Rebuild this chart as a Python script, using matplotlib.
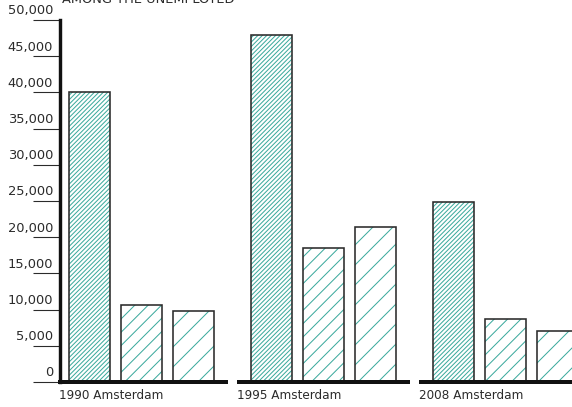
import matplotlib
matplotlib.use('Agg')
import matplotlib.pyplot as plt
from matplotlib.transforms import ScaledTranslation

DPI = 120
W, H = 572, 407
plt.rcParams['font.family'] = ['DejaVu Sans']
plt.rcParams['hatch.linewidth'] = 0.6

# ---- data ----
title = 'AMONG THE UNEMPLOYED'
categories = ['1990 Amsterdam', '1995 Amsterdam', '2008 Amsterdam']
series_1 = [40000, 47900, 24900]
series_2 = [10600, 18500, 8700]
series_3 = [9800, 21400, 7100]
y_ticks = [0, 5000, 10000, 15000, 20000, 25000, 30000, 35000, 40000, 45000, 50000]
y_tick_labels = ['0', '5,000', '10,000', '15,000', '20,000', '25,000',
                 '30,000', '35,000', '40,000', '45,000', '50,000']

TEAL = '#3aa99c'
DARK = '#2b2b2b'


def pt(pixels):
    return pixels * 72.0 / DPI


fig = plt.figure(figsize=(W / DPI, H / DPI), dpi=DPI)
ax = fig.add_axes([60 / W, 25 / H, (W - 60) / W, 362 / H])

GROUP_STEP = 3.5
BAR_W = 0.8
XMIN, XMAX = -0.567, 9.28
series = [series_1, series_2, series_3]
hatches = ['/////////', '///', '//']

for i, (vals, h) in enumerate(zip(series, hatches)):
    xs = [g * GROUP_STEP + i for g in range(len(categories))]
    ax.bar(xs, vals, BAR_W, facecolor='white', edgecolor=TEAL, linewidth=0,
           hatch=h, zorder=2)
    ax.bar(xs, vals, BAR_W, fill=False, edgecolor=DARK, linewidth=pt(1.6),
           zorder=3)

ax.set_xlim(XMIN, XMAX)
ax.set_ylim(0, 50000)

# group baselines and labels
for g, cat in enumerate(categories):
    start = g * GROUP_STEP - 0.67
    end = g * GROUP_STEP + 2.66
    if g == 0:
        start = XMIN - 0.03
    if g == len(categories) - 1:
        end = XMAX + 0.5
    ax.plot([start, end], [0, 0], color='#111111', lw=pt(4),
            solid_capstyle='butt', clip_on=False, zorder=4)
    lx = max(start, XMIN - 0.02)
    ax.annotate(cat, xy=(lx, 0), xycoords='data', xytext=(pt(0), pt(-7)),
                textcoords='offset points', ha='left', va='top',
                fontsize=pt(12), color=DARK, annotation_clip=False)

for s in ['top', 'right', 'bottom']:
    ax.spines[s].set_visible(False)
ax.spines['left'].set_linewidth(pt(3.4))
ax.spines['left'].set_color('#111111')
ax.spines['left'].set_bounds(0, 50000)
ax.spines['left'].set_zorder(5)

ax.set_xticks([])
ax.set_yticks(y_ticks)
ax.set_yticklabels(y_tick_labels)
ax.tick_params(axis='y', length=pt(27), width=pt(1.1), color=DARK, pad=0,
               labelsize=pt(13), labelcolor=DARK)
offset = ScaledTranslation(20 / DPI, 2.5 / DPI, fig.dpi_scale_trans)
for lab in ax.get_yticklabels():
    lab.set_verticalalignment('bottom')
    lab.set_transform(lab.get_transform() + offset)

fig.text(62 / W, 1 - 3 / H, title, ha='left', va='baseline',
         fontsize=pt(13), color=DARK)

fig.savefig('out.png', dpi=DPI)
